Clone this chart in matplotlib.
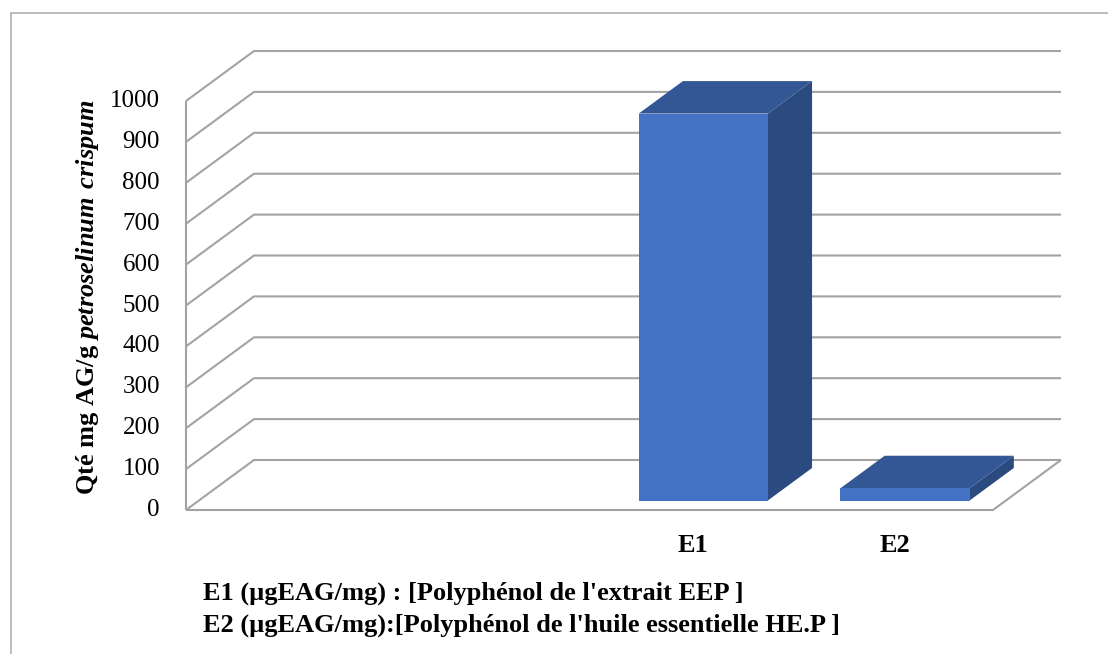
import matplotlib.pyplot as plt
from matplotlib.patches import Polygon
from matplotlib.lines import Line2D
import numpy as np

# polyphenol content per sample (first two slots of the category axis are empty)
categories = ['', '', 'E1', 'E2']
values = [np.nan, np.nan, 946, 30]
y_ticks = list(range(0, 1001, 100))
y_label = r'Qté mg AG/g $\mathbfit{petroselinum\ crispum}$'
notes = ["E1 (µgEAG/mg) : [Polyphénol de l'extrait EEP ]",
         "E2 (µgEAG/mg):[Polyphénol de l'huile essentielle HE.P ]"]

plt.rcParams['font.family'] = 'Liberation Serif'
plt.rcParams['mathtext.fontset'] = 'custom'
plt.rcParams['mathtext.rm'] = 'Liberation Serif'
plt.rcParams['mathtext.bf'] = 'Liberation Serif:bold'
plt.rcParams['mathtext.bfit'] = 'Liberation Serif:bold:italic'

W, H = 1108, 654
fig = plt.figure(figsize=(W / 100, H / 100), dpi=100)
ax = fig.add_axes([0, 0, 1, 1])
ax.axis('off')

# pixel layout of the plot box: origin of the front wall and scales
x0_px, y0_px = 186, H - 510
x_scale = 807 / len(categories)     # px per category
y_scale = 409 / 1000                # px per value unit
ax.set_xlim(-x0_px / x_scale, (W - x0_px) / x_scale)
ax.set_ylim(-y0_px / y_scale, (H - y0_px) / y_scale)

# oblique depth offset of the back wall, in data units
DX = 68 / x_scale
DY = 50 / y_scale


def proj(x, v, d):
    return (x + d * DX, v + d * DY)


grid_kw = dict(color='#a3a3a3', lw=1.5, zorder=1, solid_capstyle='butt')
n = len(categories)

# left wall gridlines and back wall gridlines
for v in y_ticks:
    pts = [proj(0, v, 0), proj(0, v, 1), proj(n, v, 1)]
    ax.plot([p[0] for p in pts], [p[1] for p in pts], **grid_kw)
# front vertical edge of the left wall, floor front and right edges
ax.plot([0, 0], [0, y_ticks[-1]], **grid_kw)
pts = [proj(0, 0, 0), proj(n, 0, 0), proj(n, 0, 1)]
ax.plot([p[0] for p in pts], [p[1] for p in pts], **grid_kw)

# 3D columns
half_w = 0.32
d0, d1 = 0.19, 0.84
for i, v in enumerate(values):
    if np.isnan(v):
        continue
    c = i + 0.5
    front = [proj(c - half_w, 0, d0), proj(c + half_w, 0, d0),
             proj(c + half_w, v, d0), proj(c - half_w, v, d0)]
    top = [proj(c - half_w, v, d0), proj(c + half_w, v, d0),
           proj(c + half_w, v, d1), proj(c - half_w, v, d1)]
    side = [proj(c + half_w, 0, d0), proj(c + half_w, 0, d1),
            proj(c + half_w, v, d1), proj(c + half_w, v, d0)]
    ax.add_patch(Polygon(side, closed=True, fc='#2b4a80', ec='none', zorder=3))
    ax.add_patch(Polygon(top, closed=True, fc='#335795', ec='none', zorder=3))
    ax.add_patch(Polygon(front, closed=True, fc='#4472c4', ec='none', zorder=4))

# value axis labels
for v in y_ticks:
    ax.text(-26 / x_scale, v, str(v), ha='right', va='center', fontsize=18)

# category labels
for i, cat in enumerate(categories):
    if cat:
        ax.text(i + 0.5 + 3 / x_scale, -35 / y_scale, cat, ha='center', va='center',
                fontsize=19, fontweight='bold')

fig.text(88 / W, 1 - 297 / H, y_label, rotation=90, ha='center', va='center',
         fontsize=19, fontweight='bold')

fig.text(203 / W, 1 - 593 / H, notes[0], ha='left', va='center',
         fontsize=19, fontweight='bold')
fig.text(203 / W, 1 - 625 / H, notes[1], ha='left', va='center',
         fontsize=19, fontweight='bold')

# chart frame
fig.add_artist(Line2D([11 / W, 11 / W], [0, 1 - 13 / H], color='#b0b0b0', lw=1.2))
fig.add_artist(Line2D([11 / W, 1], [1 - 13 / H, 1 - 13 / H], color='#b0b0b0', lw=1.2))

fig.savefig('out.png', dpi=100)
